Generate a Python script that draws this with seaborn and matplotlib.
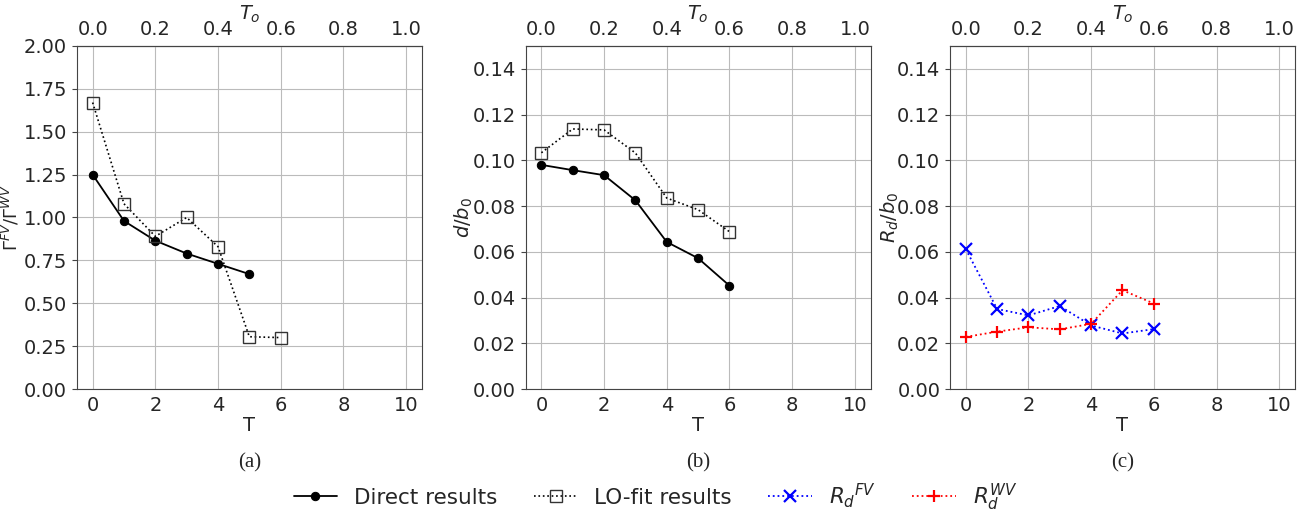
import pandas as pd
import seaborn as sns
import matplotlib.pyplot as plt

# T values (lower axis); top axis shows T_o = T / 10
t_vals = [0, 1, 2, 3, 4, 5, 6]

# (a) circulation ratio
gamma_direct = [1.25, 0.98, 0.865, 0.79, 0.73, 0.67]
gamma_lofit = [1.67, 1.08, 0.89, 1.00, 0.83, 0.305, 0.30]

# (b) d / b0
d_direct = [0.098, 0.0957, 0.0935, 0.0825, 0.0643, 0.0572, 0.0452]
d_lofit = [0.1033, 0.1137, 0.1133, 0.1032, 0.0835, 0.0784, 0.0688]

# (c) Rd / b0
rd_fv = [0.0612, 0.0350, 0.0322, 0.0363, 0.0278, 0.0243, 0.0262]
rd_wv = [0.0228, 0.0251, 0.0270, 0.0261, 0.0285, 0.0432, 0.0374]

x_ticks = [0, 2, 4, 6, 8, 10]
top_ticks = [0.0, 0.2, 0.4, 0.6, 0.8, 1.0]

sns.set_style("ticks")
plt.rcParams["font.family"] = ["DejaVu Sans"]
plt.rcParams["mathtext.fontset"] = "dejavusans"

FS = 14

fig = plt.figure(figsize=(13.11, 5.16), dpi=100)
lefts = [0.0587, 0.401, 0.7247]
axes = [fig.add_axes([l, 0.246, 0.263, 0.665]) for l in lefts]

direct_kw = dict(color="black", linestyle="-", marker="o", markersize=6,
                 linewidth=1.3, markeredgecolor="black")
lofit_kw = dict(color="black", linestyle=":", marker="s", markersize=9,
                linewidth=1.2, markerfacecolor="none", markeredgecolor="#333333",
                markeredgewidth=1.0)


def line(ax, y, label, **kw):
    df = pd.DataFrame({"T": t_vals[:len(y)], "v": y})
    sns.lineplot(data=df, x="T", y="v", ax=ax, label=label, legend=False, **kw)


line(axes[0], gamma_direct, "Direct results", **direct_kw)
line(axes[0], gamma_lofit, "LO-fit results", **lofit_kw)
line(axes[1], d_direct, "Direct results", **direct_kw)
line(axes[1], d_lofit, "LO-fit results", **lofit_kw)
line(axes[2], rd_fv, r"$R_d{}^{FV}$", color="blue", linestyle=":", marker="x",
     markersize=8, markeredgewidth=1.6, linewidth=1.3, markeredgecolor="blue")
line(axes[2], rd_wv, r"$R_d^{WV}$", color="red", linestyle=":", marker="+",
     markersize=9, markeredgewidth=1.6, linewidth=1.3, markeredgecolor="red")

ylabels = [r"$\Gamma^{FV}/\Gamma^{WV}$", r"$d/b_0$", r"$R_d/b_0$"]
ylabel_x = [-0.16, -0.148, -0.142]
ylims = [(0, 2.0), (0, 0.15), (0, 0.15)]
yticks = [[0, 0.25, 0.5, 0.75, 1.0, 1.25, 1.5, 1.75, 2.0],
          [0, 0.02, 0.04, 0.06, 0.08, 0.10, 0.12, 0.14],
          [0, 0.02, 0.04, 0.06, 0.08, 0.10, 0.12, 0.14]]
captions = ["(a)", "(b)", "(c)"]

for i, ax in enumerate(axes):
    ax.set_xlim(-0.5, 10.5)
    ax.set_ylim(*ylims[i])
    ax.set_xticks(x_ticks)
    ax.set_yticks(yticks[i])
    ax.set_yticklabels([f"{v:.2f}" for v in yticks[i]])
    ax.set_xlabel("T", fontsize=FS, labelpad=1)
    ax.set_ylabel(ylabels[i], fontsize=FS if i else 13)
    ax.yaxis.set_label_coords(ylabel_x[i], 0.5)
    ax.tick_params(labelsize=FS, color="#444444")
    ax.tick_params(axis="x", length=0, pad=5)
    ax.grid(True, color="#bbbbbb", linewidth=0.8)
    for s in ax.spines.values():
        s.set_color("#444444")
    top = ax.secondary_xaxis("top", functions=(lambda x: x / 10, lambda x: x * 10))
    top.set_xticks(top_ticks)
    top.set_xticklabels([f"{v:.1f}" for v in top_ticks])
    top.tick_params(labelsize=FS, length=0, pad=5)
    top.set_xlabel(r"$T_o$", fontsize=FS, labelpad=0)
    pos = ax.get_position()
    fig.text(pos.x0 + pos.width / 2, 0.103, captions[i], ha="center", va="center",
             fontsize=15, family=["Liberation Serif"])

handles, labels = [], []
for ax in [axes[0], axes[2]]:
    h, l = ax.get_legend_handles_labels()
    handles += h
    labels += l
fig.legend(handles, labels, loc="center", bbox_to_anchor=(0.5, 0.037), ncol=4,
           frameon=False, fontsize=15.5, columnspacing=1.7, handlelength=2.0)

fig.savefig("out.png", dpi=100)
